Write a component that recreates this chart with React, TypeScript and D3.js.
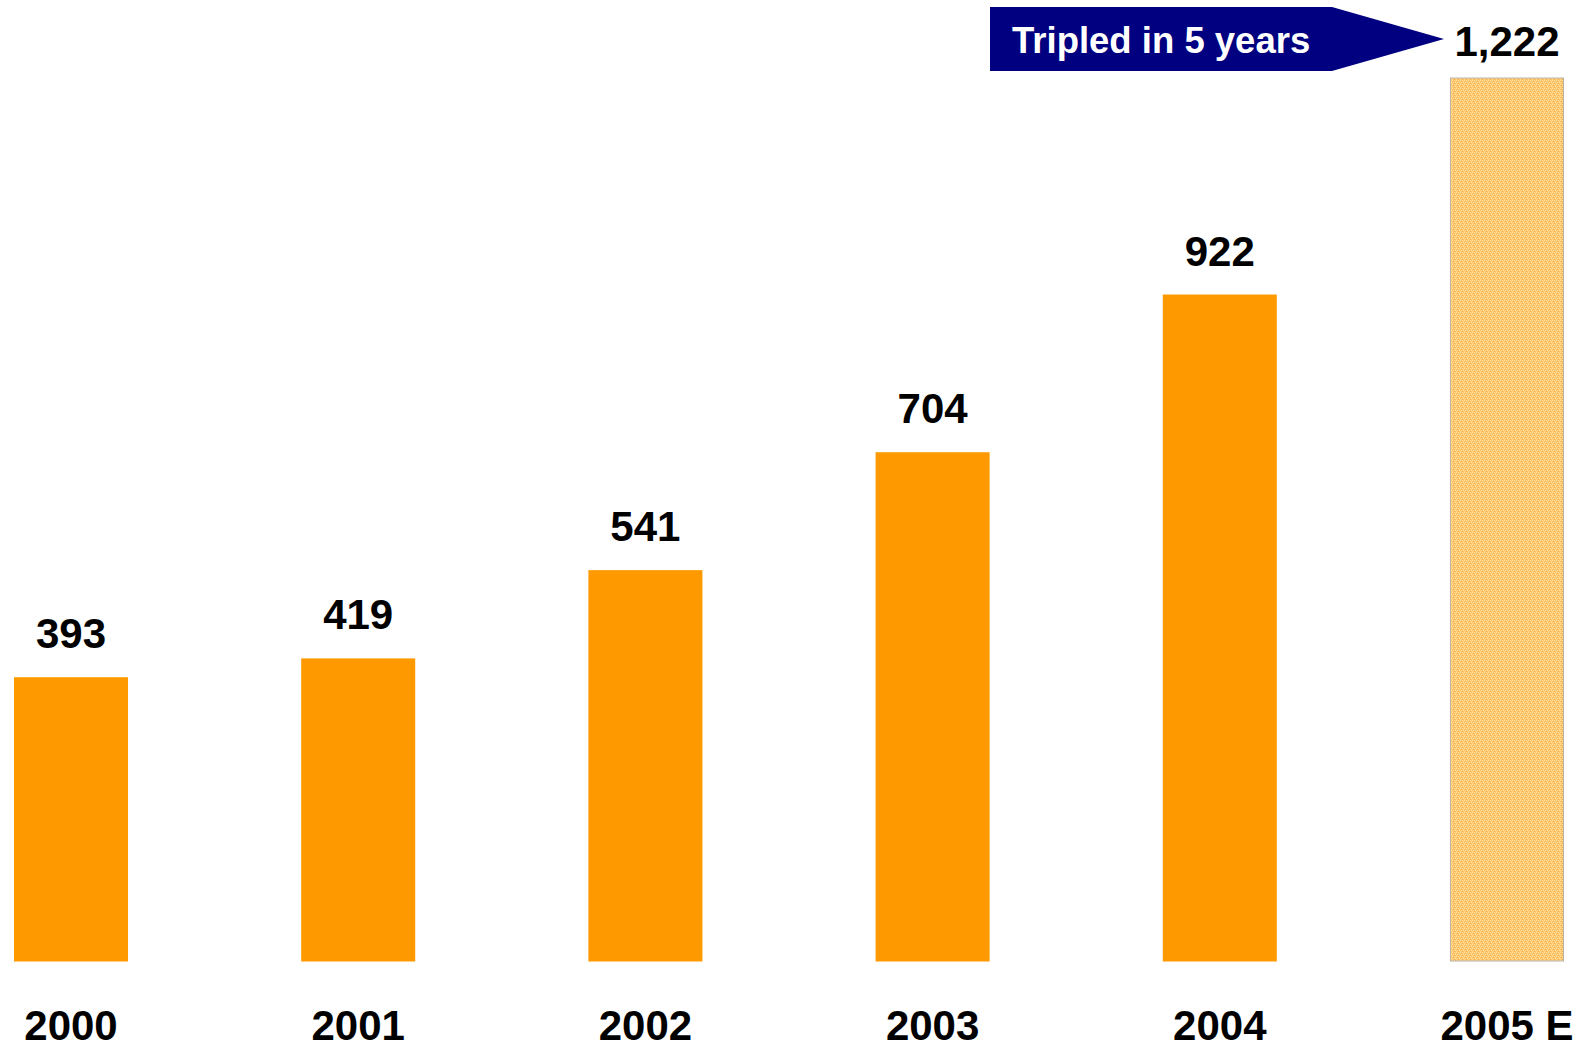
import React from "react";
import * as d3 from "d3";

const categories = ["2000", "2001", "2002", "2003", "2004", "2005 E"];
const values = [393, 419, 541, 704, 922, 1222];
const valueLabels = ["393", "419", "541", "704", "922", "1,222"];
const estimated = [false, false, false, false, false, true];
const bannerText = "Tripled in 5 years";

const W = 1587;
const H = 1049;
const FONT = "'Liberation Sans', Arial, Helvetica, sans-serif";

export default function App() {
  const x = d3
    .scaleBand<string>()
    .domain(categories)
    .range([14, 1564])
    .paddingInner(0.603)
    .paddingOuter(0);
  const y = d3.scaleLinear().domain([0, 1222]).range([961.5, 77.5]);

  const lastCat = categories[categories.length - 1];
  const lastX = x(lastCat) as number;
  const bannerTop = 7;
  const bannerBottom = 71;
  const bannerMid = (bannerTop + bannerBottom) / 2;
  const bannerPath = d3.path();
  bannerPath.moveTo(990, bannerTop);
  bannerPath.lineTo(1332, bannerTop);
  bannerPath.lineTo(lastX - 6, bannerMid);
  bannerPath.lineTo(1332, bannerBottom);
  bannerPath.lineTo(990, bannerBottom);
  bannerPath.closePath();

  return (
    <svg
      width={W}
      height={H}
      style={{ position: "absolute", left: 0, top: 0, background: "#fff" }}
    >
      <defs>
        <pattern id="est" width="4" height="4" patternUnits="userSpaceOnUse">
          <rect width="4" height="4" fill="#FFC466" />
          <rect x="0" y="0" width="1" height="1" fill="#FFE1A4" />
          <rect x="2" y="0" width="1" height="1" fill="#FFE1A4" />
          <rect x="1" y="1" width="1" height="1" fill="#F9AE48" />
          <rect x="3" y="1" width="1" height="1" fill="#FFD890" />
          <rect x="1" y="2" width="1" height="1" fill="#FFE1A4" />
          <rect x="3" y="2" width="1" height="1" fill="#FFE1A4" />
          <rect x="0" y="3" width="1" height="1" fill="#FFD890" />
          <rect x="2" y="3" width="1" height="1" fill="#F9AE48" />
        </pattern>
      </defs>

      {categories.map((c, i) => {
        const bx = x(c) as number;
        const bw = x.bandwidth();
        const top = y(values[i]);
        const base = y(0);
        const est = estimated[i];
        const labelY = est ? Math.max(top - 22, bannerMid + 17) : top - 29;
        return (
          <g key={c}>
            <rect
              x={est ? bx + 0.5 : bx}
              y={est ? top + 0.5 : top}
              width={est ? bw - 1 : bw}
              height={est ? base - top - 1 : base - top}
              fill={est ? "url(#est)" : "#FF9900"}
              stroke={est ? "#BDB2A6" : "none"}
              strokeWidth={1}
            />
            <text
              x={bx + bw / 2}
              y={labelY}
              textAnchor="middle"
              fontFamily={FONT}
              fontWeight="bold"
              fontSize={42}
              fill="#000"
            >
              {valueLabels[i]}
            </text>
            <text
              x={bx + bw / 2}
              y={1040}
              textAnchor="middle"
              fontFamily={FONT}
              fontWeight="bold"
              fontSize={42}
              fill="#000"
            >
              {c}
            </text>
          </g>
        );
      })}

      <path d={bannerPath.toString()} fill="#000080" />
      <text
        x={1012}
        y={53}
        fontFamily={FONT}
        fontWeight="bold"
        fontSize={36.5}
        fill="#fff"
      >
        {bannerText}
      </text>
    </svg>
  );
}
